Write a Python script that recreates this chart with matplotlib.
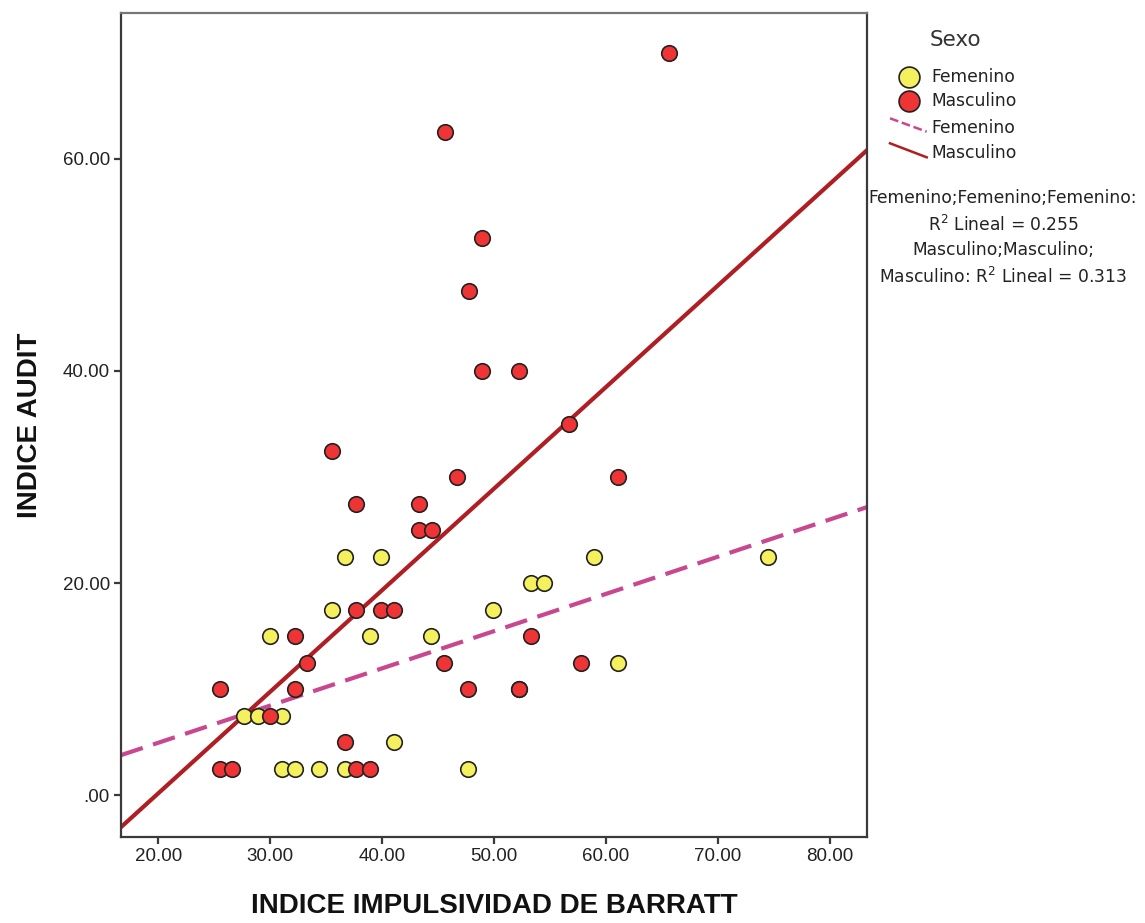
import matplotlib
matplotlib.use("Agg")
import matplotlib.pyplot as plt
from matplotlib.lines import Line2D
import numpy as np

# ---------------- data ----------------
fem_x = [36.7, 39.9, 35.5, 49.9, 30.0, 38.9, 44.4, 27.7, 28.9, 31.1, 41.1,
         31.1, 32.2, 34.4, 36.7, 47.7, 58.9, 53.3, 54.5, 61.1, 74.5]
fem_y = [22.5, 22.5, 17.5, 17.5, 15.0, 15.0, 15.0, 7.5, 7.5, 7.5, 5.0,
         2.5, 2.5, 2.5, 2.5, 2.5, 22.5, 20.0, 20.0, 12.5, 22.5]

masc_x = [65.6, 45.6, 48.9, 47.8, 48.9, 52.2, 56.7, 35.5, 46.7, 61.1, 37.7,
          43.3, 43.3, 44.5, 37.7, 39.9, 41.1, 32.2, 53.3, 33.3, 45.5, 57.8,
          25.5, 32.2, 47.7, 52.2, 52.2, 30.0, 36.7, 25.5, 26.6, 37.7, 38.9]
masc_y = [70.0, 62.5, 52.5, 47.5, 40.0, 40.0, 35.0, 32.5, 30.0, 30.0, 27.5,
          27.5, 25.0, 25.0, 17.5, 17.5, 17.5, 15.0, 15.0, 12.5, 12.5, 12.5,
          10.0, 10.0, 10.0, 10.0, 10.0, 7.5, 5.0, 2.5, 2.5, 2.5, 2.5]

# regression lines (slope, intercept)
fem_fit = (0.351, -2.09)
masc_fit = (0.958, -19.0)

x_ticks = [20, 30, 40, 50, 60, 70, 80]
y_ticks = [0, 20, 40, 60]
x_ticklabels = ["20.00", "30.00", "40.00", "50.00", "60.00", "70.00", "80.00"]
y_ticklabels = [".00", "20.00", "40.00", "60.00"]

legend_title = "Sexo"
groups = ["Femenino", "Masculino"]
r2_lines = ["Femenino;Femenino;Femenino:", "R$^2$ Lineal = 0.255",
            "Masculino;Masculino;", "Masculino: R$^2$ Lineal = 0.313"]

# ---------------- style ----------------
YELLOW = "#F5F05E"
RED = "#EE3434"
RED_LINE = "#AE1E22"
PINK_LINE = "#C8478F"
SPINE = "#3a3a3a"

W, H = 1145, 923
fig = plt.figure(figsize=(W / 100, H / 100), dpi=100)
fig.patch.set_facecolor("white")

ax_l, ax_r, ax_t, ax_b = 121, 867, 12.7, 837
ax = fig.add_axes([ax_l / W, 1 - ax_b / H, (ax_r - ax_l) / W, (ax_b - ax_t) / H])

xlim = (16.67, 83.33)
ylim = (-3.96, 73.8)
ax.set_xlim(*xlim)
ax.set_ylim(*ylim)

# regression lines
xs = np.array(xlim)
ax.plot(xs, fem_fit[0] * xs + fem_fit[1], color=PINK_LINE, lw=3.0,
        dashes=(5.5, 2.6), zorder=2, solid_capstyle="butt", dash_capstyle="butt")
ax.plot(xs, masc_fit[0] * xs + masc_fit[1], color=RED_LINE, lw=3.0, zorder=2)

# points
ax.scatter(fem_x, fem_y, s=125, c=YELLOW, edgecolors="#222222", linewidths=1.2, zorder=3)
ax.scatter(masc_x, masc_y, s=125, c=RED, edgecolors="#222222", linewidths=1.2, zorder=3)

# axes styling
for side in ["left", "bottom", "right", "top"]:
    ax.spines[side].set_color(SPINE)
    ax.spines[side].set_linewidth(1.6)
ax.spines["top"].set_color("#777777")

ax.set_xticks(x_ticks)
ax.set_xticklabels(x_ticklabels, fontfamily="Liberation Sans")
ax.set_yticks(y_ticks)
ax.set_yticklabels(y_ticklabels, fontfamily="Liberation Sans")
ax.tick_params(direction="out", length=5, width=1.6, color=SPINE,
               labelsize=13.5, pad=3, top=False, right=False,
               labelcolor="#222222")

ax.set_xlabel("INDICE IMPULSIVIDAD DE BARRATT", fontsize=20, fontweight="bold",
              family="Liberation Sans", color="#111111")
ax.set_ylabel("INDICE AUDIT", fontsize=20, fontweight="bold",
              family="Liberation Sans", color="#111111")
ax.xaxis.label.set_va("center")
ax.yaxis.label.set_va("center")
ax.yaxis.label.set_ha("center")
ax.yaxis.set_label_coords((30 - ax_l) / (ax_r - ax_l), 0.5)
ax.xaxis.set_label_coords(0.5, (ax_b - 906) / (ax_b - ax_t))

# ---------------- legend (drawn in figure pixel space) ----------------
def fx(px):
    return px / W

def fy(py):
    return 1 - py / H

fig.text(fx(955), fy(40), legend_title, fontsize=15.5, family="DejaVu Sans",
         ha="center", va="center", color="#333333")

marker_colors = [YELLOW, RED]
for i, (g, col) in enumerate(zip(groups, marker_colors)):
    yy = [77, 101][i]
    fig.add_artist(Line2D([fx(909)], [fy(yy)], marker="o", markersize=15,
                          markerfacecolor=col, markeredgecolor="#222222",
                          markeredgewidth=1.2, linestyle="none",
                          transform=fig.transFigure))
    fig.text(fx(931), fy(yy), g, fontsize=12.3, family="DejaVu Sans",
             ha="left", va="center", color="#222222")

line_styles = [(PINK_LINE, (3.5, 1.5)), (RED_LINE, None)]
for i, (g, (col, dash)) in enumerate(zip(groups, line_styles)):
    y0 = [118.3, 143.3][i]
    y1 = [131.7, 157.3][i]
    ln = Line2D([fx(890), fx(926.7)], [fy(y0), fy(y1)], color=col, lw=1.8,
                transform=fig.transFigure)
    if dash is not None:
        ln.set_dashes(dash)
    fig.add_artist(ln)
    fig.text(fx(931), fy([128.3, 153.3][i]), g, fontsize=12.3,
             family="DejaVu Sans", ha="left", va="center", color="#222222")

for txt, yy in zip(r2_lines, [198, 225, 250, 277]):
    fig.text(fx(1003), fy(yy), txt, fontsize=12.3, family="DejaVu Sans",
             ha="center", va="center", color="#222222")

fig.savefig("out.png", dpi=100, facecolor="white")
